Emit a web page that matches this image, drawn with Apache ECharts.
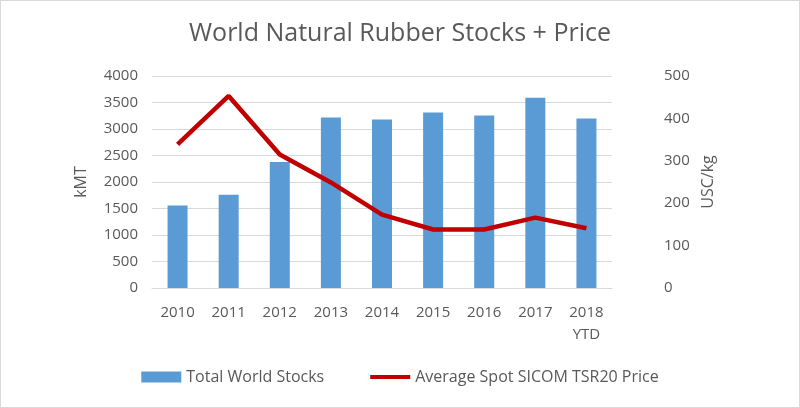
<!DOCTYPE html>
<html><head><meta charset="utf-8">
<script src="https://cdn.jsdelivr.net/npm/echarts@6/dist/echarts.min.js"></script>
<style>html,body{margin:0;padding:0;background:#fff}#c{width:800px;height:408px;box-sizing:border-box;border:1px solid #d9d9d9}</style>
</head><body><div id="c"></div>
<script>
const categories = ['2010','2011','2012','2013','2014','2015','2016','2017','2018\nYTD'];
const stocks = [1555, 1760, 2376, 3216, 3178, 3309, 3253, 3589, 3197];
const price = [339, 453, 315, 249, 173, 138, 138, 166, 141];
const leftTicks = {min:0, max:4000, interval:500};
const rightTicks = {min:0, max:500, interval:100};

const font = 'Open Sans, Liberation Sans, sans-serif';
const txt = '#595959';
const chart = echarts.init(document.getElementById('c'));
chart.setOption({
  animation:false,
  title:{text:'World Natural Rubber Stocks + Price', left:'center', top:15,
    textStyle:{fontFamily:font, fontSize:25, fontWeight:'normal', color:txt}},
  grid:{left:151, right:187, top:75, bottom:119},
  legend:{bottom:17, left:'center', itemGap:46, itemWidth:40, itemHeight:11,
    textStyle:{fontFamily:font, fontSize:16, color:txt},
    data:[{name:'Total World Stocks', icon:'rect'},
          {name:'Average Spot SICOM TSR20 Price', icon:'path://M0,3.5 L40,3.5 L40,7.5 L0,7.5 Z'}]},
  xAxis:{type:'category', data:categories,
    axisLine:{lineStyle:{color:'#d9d9d9'}}, axisTick:{show:false},
    axisLabel:{fontFamily:font, fontSize:15, color:txt, margin:14, lineHeight:22}},
  yAxis:[
    {type:'value', ...leftTicks, name:'kMT', nameLocation:'middle', nameGap:63, nameRotate:90,
     nameTextStyle:{fontFamily:font, fontSize:16, color:txt},
     axisLabel:{fontFamily:font, fontSize:15, color:txt, margin:14, formatter:v=>String(v)},
     splitLine:{lineStyle:{color:'#d9d9d9'}}, axisLine:{show:false}, axisTick:{show:false}},
    {type:'value', ...rightTicks, name:'USC/kg', nameLocation:'middle', nameGap:65, nameRotate:90,
     nameTextStyle:{fontFamily:font, fontSize:16, color:txt},
     axisLabel:{fontFamily:font, fontSize:15, color:txt, margin:52, align:'left', formatter:v=>String(v)},
     splitLine:{show:false}, axisLine:{show:false}, axisTick:{show:false}}
  ],
  series:[
    {name:'Total World Stocks', type:'bar', data:stocks, barWidth:20, itemStyle:{color:'#5B9BD5'}},
    {name:'Average Spot SICOM TSR20 Price', type:'line', yAxisIndex:1, data:price,
     symbol:'none', lineStyle:{color:'#C00000', width:4.5}, itemStyle:{color:'#C00000'}}
  ]
});
</script></body></html>
